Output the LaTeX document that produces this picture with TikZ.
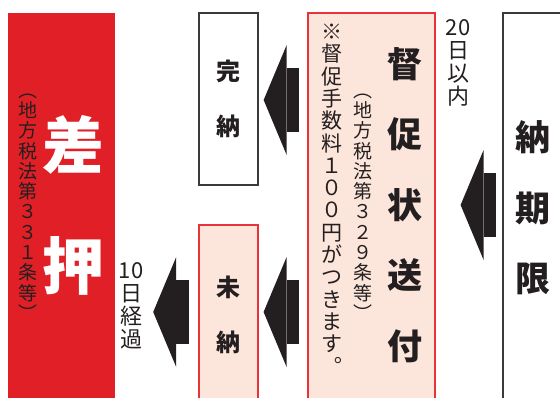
\documentclass[tikz,border=0pt]{standalone}
\usepackage{fontspec}
\setmainfont{Noto Sans CJK JP}
\newfontfamily\heavyfont{Noto Sans CJK JP Black}
\usetikzlibrary{arrows.meta}

\definecolor{sashired}{HTML}{E01F26}
\definecolor{pinkfill}{HTML}{FCE5DA}
\definecolor{boxred}{HTML}{E8333A}
\definecolor{inkgray}{HTML}{231F20}
\definecolor{linegray}{HTML}{3A3A3A}

\tikzset{
  redbox/.style={rectangle, fill=sashired, draw=none, inner sep=0pt},
  pinkbox/.style={rectangle, fill=pinkfill, draw=boxred, line width=1.2pt, inner sep=0pt, align=center},
  whitebox/.style={rectangle, fill=white, draw=linegray, line width=1.3pt, inner sep=0pt, align=center},
  bigtext/.style={font=\fontsize{62}{121}\selectfont\heavyfont, text=white, align=center, inner sep=0pt},
  maintext/.style={font=\fontsize{35}{70.5}\selectfont\heavyfont, text=inkgray, align=center, inner sep=0pt},
  boxtext/.style={font=\fontsize{24}{55}\selectfont\bfseries, text=inkgray},
  notetext/.style={font=\fontsize{19}{20.3}\selectfont, text=inkgray, align=center, inner sep=0pt},
  feetext/.style={font=\fontsize{21}{22.3}\selectfont, text=inkgray, align=center, inner sep=0pt},
  daytext/.style={font=\fontsize{22}{23}\selectfont, text=inkgray, align=center, inner sep=0pt},
  blockarrow/.style={draw=inkgray, line width=64pt, -{Triangle[length=23pt, width=110pt, line width=0pt]}}
}

\begin{document}
\begin{tikzpicture}[x=1pt,y=-1pt]
\useasboundingbox (0,0) rectangle (560,397);
\clip (0,0) rectangle (560,397);

% 差押
\node[redbox, minimum width=107pt, minimum height=400pt] (sashi) at (61.5,213) {};
\node[bigtext] (sashimain) at (73,205) {差\\押};
\node[notetext] (sashinote) at (28,207) {︵\\地\\方\\税\\法\\第\\３\\３\\１\\条\\等\\︶};

% 完納, 未納
\node[whitebox, boxtext, minimum width=59pt, minimum height=172pt] (kannou) at (228.5,99) {完\\納};
\node[pinkbox, boxtext, minimum width=59pt, minimum height=180pt] (minou) at (228.5,315) {未\\納};

% 督促状送付
\node[pinkbox, minimum width=127pt, minimum height=400pt] (tokusoku) at (371.5,213) {};
\node[maintext] (tokusokumain) at (405,205) {督\\促\\状\\送\\付};
\node[notetext] (tokusokunote) at (363,207) {︵\\地\\方\\税\\法\\第\\３\\２\\９\\条\\等\\︶};
\node[feetext] (tesuuryou) at (332,199) {※\\督\\促\\手\\数\\料\\１\\０\\０\\円\\が\\つ\\き\\ま\\す\\︒};

% 納期限
\node[whitebox, minimum width=80pt, minimum height=400pt] (nouki) at (543,213) {};
\node[maintext] (noukimain) at (533,208) {納\\期\\限};

% days
\node[daytext] (hatsuka) at (458,63) {20\\日\\以\\内};
\node[daytext] (tooka) at (131,306) {10\\日\\経\\過};

\draw[blockarrow, shorten <=6pt, shorten >=25pt] (nouki.west |- 0,205) -- (tokusoku.east |- 0,205);
\draw[blockarrow, shorten <=8pt, shorten >=5pt] (tokusoku.west |- 0,100) -- (kannou.east |- 0,100);
\draw[blockarrow, shorten <=8pt, shorten >=5pt] (tokusoku.west |- 0,312) -- (minou.east |- 0,312);
\draw[blockarrow, shorten <=9pt, shorten >=38pt] (minou.west |- 0,312) -- (sashi.east |- 0,312);
\end{tikzpicture}
\end{document}
